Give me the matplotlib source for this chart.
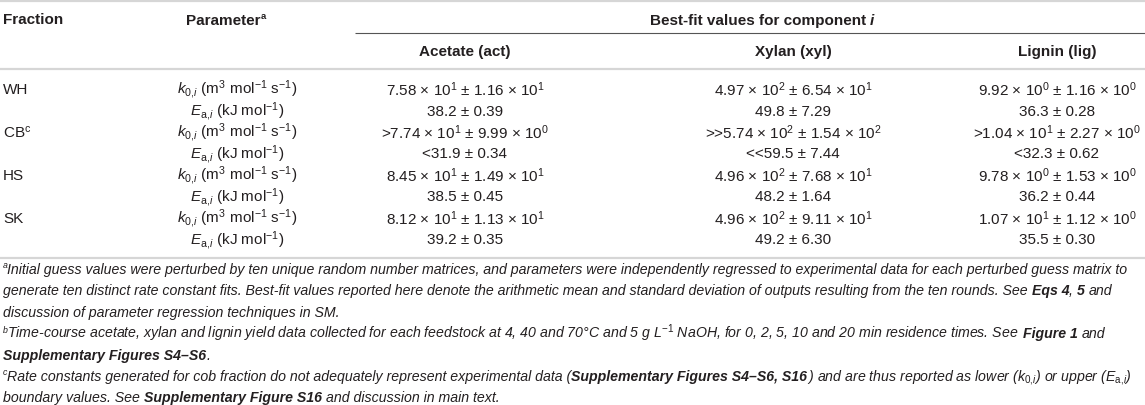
import matplotlib
matplotlib.use("Agg")
import matplotlib.pyplot as plt

# TABLE DATA #
fractions = ["WH", "CB$^{\\mathrm{c}}$", "HS", "SK"]
param_labels = ["$k_{0,\\!i}$ (m$^{3}$ mol$^{-1}$ s$^{-1}$)",
                "$E_{\\mathrm{a},\\!i}$ (kJ mol$^{-1}$)"]
components = ["Acetate (act)", "Xylan (xyl)", "Lignin (lig)"]

acetate_vals = ["7.58 \u00d7 10$^{1}$ \u00b1 1.16 \u00d7 10$^{1}$", "38.2 \u00b1 0.39",
                ">7.74 \u00d7 10$^{1}$ \u00b1 9.99 \u00d7 10$^{0}$", "<31.9 \u00b1 0.34",
                "8.45 \u00d7 10$^{1}$ \u00b1 1.49 \u00d7 10$^{1}$", "38.5 \u00b1 0.45",
                "8.12 \u00d7 10$^{1}$ \u00b1 1.13 \u00d7 10$^{1}$", "39.2 \u00b1 0.35"]
xylan_vals = ["4.97 \u00d7 10$^{2}$ \u00b1 6.54 \u00d7 10$^{1}$", "49.8 \u00b1 7.29",
              ">>5.74 \u00d7 10$^{2}$ \u00b1 1.54 \u00d7 10$^{2}$", "<<59.5 \u00b1 7.44",
              "4.96 \u00d7 10$^{2}$ \u00b1 7.68 \u00d7 10$^{1}$", "48.2 \u00b1 1.64",
              "4.96 \u00d7 10$^{2}$ \u00b1 9.11 \u00d7 10$^{1}$", "49.2 \u00b1 6.30"]
lignin_vals = ["9.92 \u00d7 10$^{0}$ \u00b1 1.16 \u00d7 10$^{0}$", "36.3 \u00b1 0.28",
               ">1.04 \u00d7 10$^{1}$ \u00b1 2.27 \u00d7 10$^{0}$", "<32.3 \u00b1 0.62",
               "9.78 \u00d7 10$^{0}$ \u00b1 1.53 \u00d7 10$^{0}$", "36.2 \u00b1 0.44",
               "1.07 \u00d7 10$^{1}$ \u00b1 1.12 \u00d7 10$^{0}$", "35.5 \u00b1 0.30"]

# footnotes: list of lines, each line a list of (text, style) segments
footnotes = [
    [("a", "sup"), ("Initial guess values were perturbed by ten unique random number matrices, and parameters were independently regressed to experimental data for each perturbed guess matrix to", "i")],
    [("generate ten distinct rate constant fits. Best-fit values reported here denote the arithmetic mean and standard deviation of outputs resulting from the ten rounds. See ", "i"),
     ("Eqs 4", "bi"), (", ", "i"), ("5", "bi"), (" and", "i")],
    [("discussion of parameter regression techniques in SM.", "i")],
    [("b", "sup"), ("Time-course acetate, xylan and lignin yield data collected for each feedstock at 4, 40 and 70\u00b0C and 5 g L$^{-1}$ NaOH, for 0, 2, 5, 10 and 20 min residence times. See ", "i"),
     ("Figure 1", "bi"), (" and", "i")],
    [("Supplementary Figures S4\u2013S6", "bi"), (".", "i")],
    [("c", "sup"), ("Rate constants generated for cob fraction do not adequately represent experimental data (", "i"),
     ("Supplementary Figures S4\u2013S6, S16", "bi"), (") and are thus reported as lower ($k_{0,\\!i}$) or upper ($E_{\\mathrm{a},\\!i}$)", "i")],
    [("boundary values. See ", "i"), ("Supplementary Figure S16", "bi"), (" and discussion in main text.", "i")],
]

# STYLE #
plt.rcParams['font.family'] = ['Liberation Sans', 'DejaVu Sans']
plt.rcParams['mathtext.fontset'] = 'custom'
plt.rcParams['mathtext.rm'] = 'Liberation Sans'
plt.rcParams['mathtext.it'] = 'Liberation Sans:italic'
plt.rcParams['mathtext.bf'] = 'Liberation Sans:bold'

TXT = "#231f20"
RULE = "#d6d6d6"
FS = 11.0
FS_NOTE = 10.2

W, H = 1145, 406
fig = plt.figure(figsize=(W / 100, H / 100), dpi=100)
ax = fig.add_axes([0, 0, 1, 1])
ax.set_xlim(0, W)
ax.set_ylim(H, 0)
ax.axis("off")
renderer = fig.canvas.get_renderer()


def text_width(s, **kw):
    t = ax.text(0, 0, s, **kw)
    w = t.get_window_extent(renderer=renderer).width
    t.remove()
    return w


def rich(x, y, segs, size, ha="left"):
    # draw a row of differently styled pieces, one after another
    placed = []
    cur = 0.0
    for s, style in segs:
        kw = dict(fontsize=size, color=TXT, va="baseline", ha="left")
        yy = y
        if style in ("sup", "bsup"):
            kw["fontsize"] = size * 0.62
            yy = y - size * 0.55
        if style in ("i", "bi", "sup"):
            kw["fontstyle"] = "italic"
        if style in ("b", "bi", "bsup"):
            kw["fontweight"] = "bold"
        lead = len(s) - len(s.lstrip(" "))
        trail = len(s) - len(s.rstrip(" "))
        core = s.strip(" ")
        sp = text_width("x x", **kw) - text_width("xx", **kw)
        cur += lead * sp
        t = ax.text(cur, yy, core, **kw)
        placed.append((t, cur))
        w = t.get_window_extent(renderer=renderer).width
        if style == "sup":
            w -= 0.5
        cur += w + trail * sp
    shift = x
    if ha == "center":
        shift = x - cur / 2
    for t, px in placed:
        t.set_x(px + shift)
    return cur


# rules
ax.plot([0, W], [2, 2], color=RULE, lw=1.6, solid_capstyle="butt")
ax.plot([355, W], [34, 34], color="#555555", lw=0.8, solid_capstyle="butt")
ax.plot([0, W], [70, 70], color=RULE, lw=1.6, solid_capstyle="butt")
ax.plot([0, W], [259, 259], color=RULE, lw=1.6, solid_capstyle="butt")

# header
x_frac = 3
x_param = 237
x_cols = [465, 793, 1057]

ax.text(x_frac, 20, "Fraction", fontsize=FS, fontweight="bold", color=TXT, va="center", ha="left")
rich(226, 25, [("Parameter", "b"), ("a", "bsup")], FS, ha="center")
rich(762, 25, [("Best-fit values for component ", "b"), ("i", "bi")], FS, ha="center")
for xc, name in zip(x_cols, components):
    ax.text(xc, 52, name, fontsize=FS, fontweight="bold", color=TXT, va="center", ha="center")

# body
row_y = [90 + 21.5 * k for k in range(8)]
for k, y in enumerate(row_y):
    if k % 2 == 0:
        ax.text(x_frac, y, fractions[k // 2], fontsize=FS, color=TXT, va="center", ha="left")
    ax.text(x_param, y, param_labels[k % 2], fontsize=FS, color=TXT, va="center", ha="center")
    for xc, vals in zip(x_cols, [acetate_vals, xylan_vals, lignin_vals]):
        ax.text(xc, y, vals[k], fontsize=FS, color=TXT, va="center", ha="center")

# footnotes
note_y = [274 + 21.4 * k for k in range(len(footnotes))]
for y, segs in zip(note_y, footnotes):
    rich(3, y, segs, FS_NOTE)

fig.savefig("out.png", dpi=100)
